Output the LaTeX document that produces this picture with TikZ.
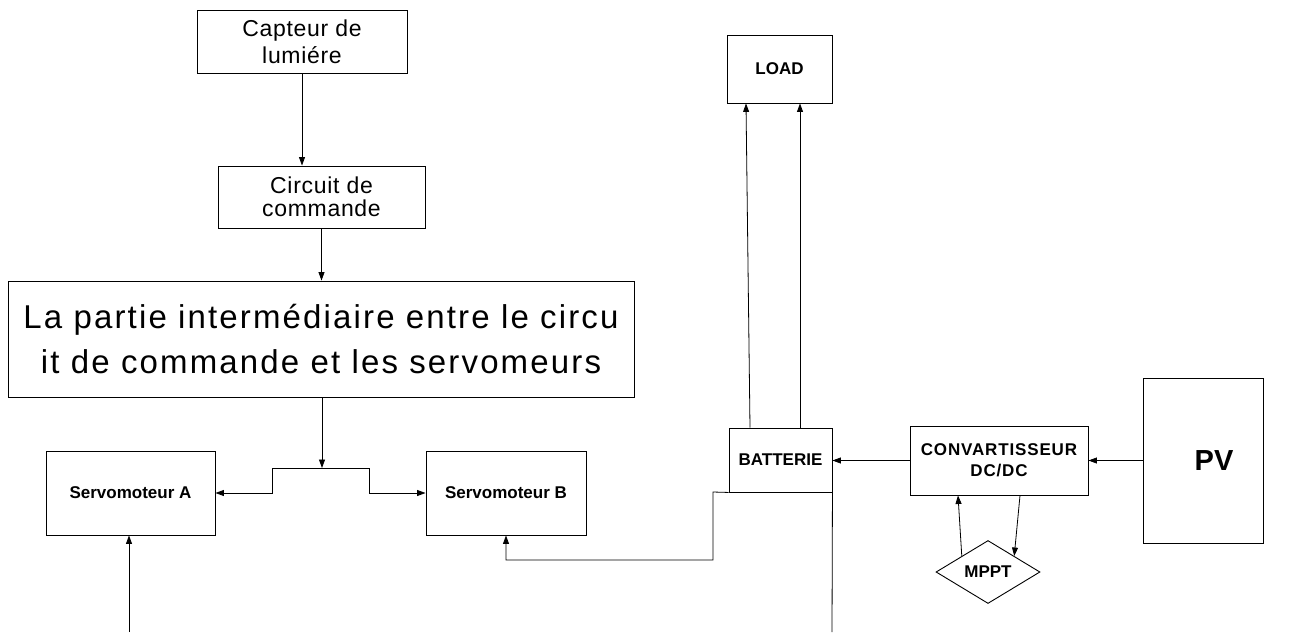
\documentclass[tikz,border=0pt]{standalone}
\usepackage{fontspec}
\setmainfont{Liberation Sans}
\usetikzlibrary{shapes.geometric,arrows.meta,calc}
\begin{document}
\begin{tikzpicture}[x=1pt,y=-1pt,
  box/.style={draw, line width=0.9pt, inner sep=0pt, align=center},
  arr/.style={line width=0.8pt, -{Triangle[length=8.5pt,width=6pt]}},
  ln/.style={line width=0.8pt},
  bl/.style={font=\bfseries\fontsize{17}{19}\selectfont}
]
\useasboundingbox (0,0) rectangle (1298,632);
\node[box, minimum width=210pt, minimum height=63pt, font=\fontsize{23}{27}\selectfont\addfontfeature{LetterSpace=3}] (cap) at (302,41.5) {Capteur de\\lumiére};
\node[box, minimum width=207pt, minimum height=62pt, font=\fontsize{23}{23}\selectfont\addfontfeature{LetterSpace=3}] (circ) at (321.5,197) {Circuit de\\commande};
\node[box, minimum width=626pt, minimum height=116pt, font=\fontsize{33}{45}\selectfont\addfontfeature{LetterSpace=6.5}] (big) at (321,339) {La partie intermédiaire entre le circu\\it de commande et les servomeurs};
\node[box, bl, minimum width=169pt, minimum height=84pt] (sA) at (130.5,493) {Servomoteur A};
\node[box, bl, minimum width=160pt, minimum height=84pt] (sB) at (506,493) {Servomoteur B};
\node[box, bl, minimum width=105pt, minimum height=68pt] (load) at (779.5,69) {LOAD};
\node[box, bl, minimum width=103pt, minimum height=64pt] (bat) at (780.5,460) {BATTERIE};
\node[box, minimum width=178pt, minimum height=69pt, font=\bfseries\fontsize{17}{21}\selectfont\addfontfeature{LetterSpace=5}] (conv) at (999,460.5) {CONVARTISSEUR\\DC/DC};
\node[box, minimum width=120pt, minimum height=165pt, font=\bfseries\fontsize{29}{32}\selectfont] (pv) at (1203,460.5) {\hspace*{22pt}PV};
\node[draw, line width=0.9pt, diamond, inner sep=0pt, minimum width=104pt, minimum height=63pt, aspect=1.65, bl] (mppt) at (988,572) {MPPT};

\coordinate (j) at (322,468);
\coordinate (jl) at (272,468);
\coordinate (jr) at (369,468);
\coordinate (a0) at (129,632);
\coordinate (b0) at (832,632);
\coordinate (k1) at (713,492);
\coordinate (k2) at (713,560);

\draw[arr] (cap.south) -- (circ.north -| cap.south);
\draw[arr] (circ.south) -- (big.north -| circ.south);
\draw[arr] (big.south -| j) -- (j);
\draw[ln] (jl) -- (jr);
\draw[arr] (jl) -- (jl |- sA.east) -- (sA.east);
\draw[arr] (jr) -- (jr |- sB.west) -- (sB.west);
\draw[arr] (a0) -- (sA.south -| a0);
\draw[arr] (bat.south west) -- (k1) -- (k2) -- (k2 -| sB.south) -- (sB.south);
\draw[ln] (bat.south east) -- (b0);
\draw[arr] ([xshift=-30.5pt]bat.north) -- ([xshift=-33.5pt]load.south);
\draw[arr] ([xshift=19.5pt]bat.north) -- ([xshift=20.5pt]load.south);
\draw[arr] (conv.west) -- (bat.east |- conv.west);
\draw[arr] (pv.west) -- (conv.east |- pv.west);
\draw[arr] (mppt.north west) -- ([xshift=-41pt]conv.south);
\draw[arr] ([xshift=21pt]conv.south) -- (mppt.north east);
\end{tikzpicture}
\end{document}
